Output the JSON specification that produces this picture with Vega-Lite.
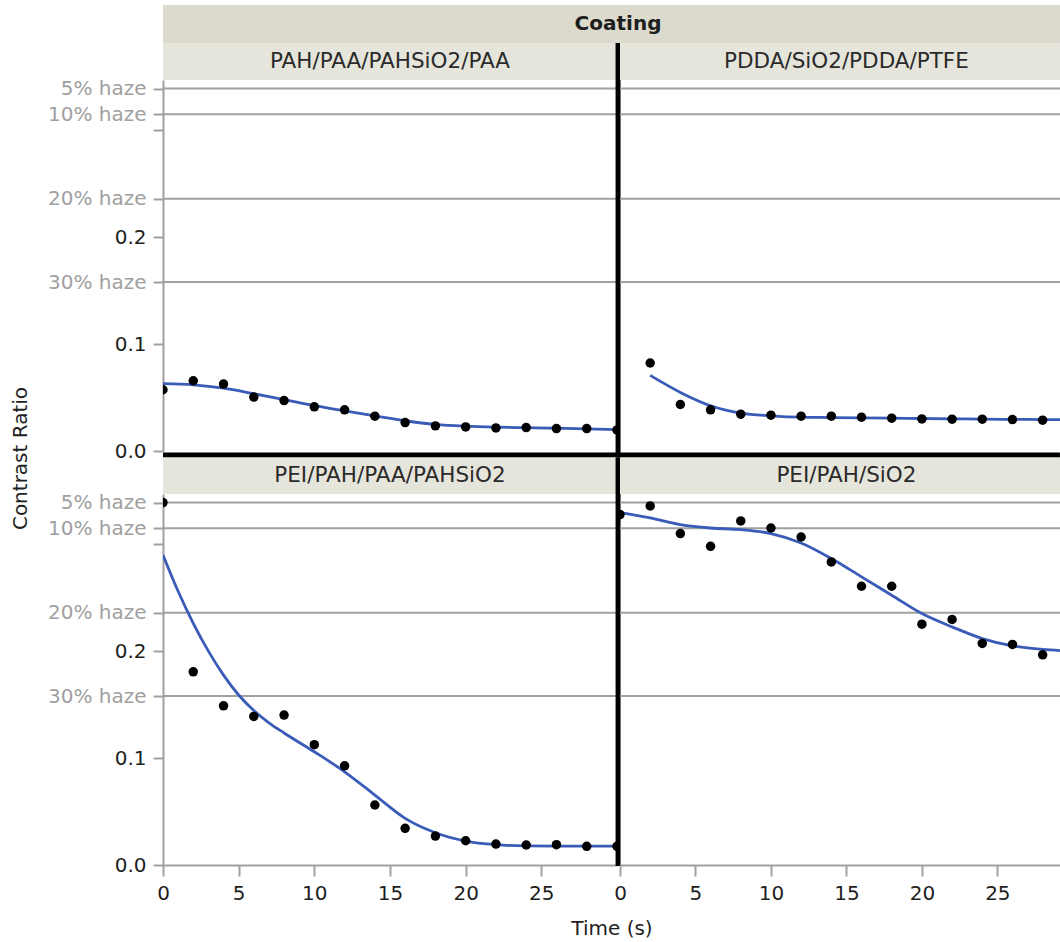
{
  "$schema": "https://vega.github.io/schema/vega-lite/v6.json",
  "usermeta": {"embedOptions": {"actions": false}},
  "padding": {"left": 10, "top": 5, "right": 0, "bottom": 0},
  "background": "white",
  "config": {
    "font": "DejaVu Sans",
    "view": {"stroke": null},
    "axis": {"labelFont": "DejaVu Sans", "labelFontSize": 20, "labelColor": "#1e1e1e", "domainColor": "#a0a0a0", "domainWidth": 2, "tickColor": "#a0a0a0", "tickWidth": 2, "tickSize": 10, "grid": false, "titleFont": "DejaVu Sans", "titleFontSize": 20, "titleFontWeight": "normal", "titleColor": "#1e1e1e"}
  },
  "datasets": {
    "pts": [
      {"Coating": "PAH/PAA/PAHSiO2/PAA", "Time": 0, "CR": 0.0573},
      {"Coating": "PAH/PAA/PAHSiO2/PAA", "Time": 2, "CR": 0.0657},
      {"Coating": "PAH/PAA/PAHSiO2/PAA", "Time": 4, "CR": 0.0626},
      {"Coating": "PAH/PAA/PAHSiO2/PAA", "Time": 6, "CR": 0.0504},
      {"Coating": "PAH/PAA/PAHSiO2/PAA", "Time": 8, "CR": 0.0472},
      {"Coating": "PAH/PAA/PAHSiO2/PAA", "Time": 10, "CR": 0.0413},
      {"Coating": "PAH/PAA/PAHSiO2/PAA", "Time": 12, "CR": 0.0385},
      {"Coating": "PAH/PAA/PAHSiO2/PAA", "Time": 14, "CR": 0.0326},
      {"Coating": "PAH/PAA/PAHSiO2/PAA", "Time": 16, "CR": 0.0266},
      {"Coating": "PAH/PAA/PAHSiO2/PAA", "Time": 18, "CR": 0.0235},
      {"Coating": "PAH/PAA/PAHSiO2/PAA", "Time": 20, "CR": 0.0225},
      {"Coating": "PAH/PAA/PAHSiO2/PAA", "Time": 22, "CR": 0.0216},
      {"Coating": "PAH/PAA/PAHSiO2/PAA", "Time": 24, "CR": 0.0219},
      {"Coating": "PAH/PAA/PAHSiO2/PAA", "Time": 26, "CR": 0.021},
      {"Coating": "PAH/PAA/PAHSiO2/PAA", "Time": 28, "CR": 0.021},
      {"Coating": "PAH/PAA/PAHSiO2/PAA", "Time": 30, "CR": 0.0197},
      {"Coating": "PDDA/SiO2/PDDA/PTFE", "Time": 2, "CR": 0.0823},
      {"Coating": "PDDA/SiO2/PDDA/PTFE", "Time": 4, "CR": 0.0435},
      {"Coating": "PDDA/SiO2/PDDA/PTFE", "Time": 6, "CR": 0.0385},
      {"Coating": "PDDA/SiO2/PDDA/PTFE", "Time": 8, "CR": 0.0344},
      {"Coating": "PDDA/SiO2/PDDA/PTFE", "Time": 10, "CR": 0.0335},
      {"Coating": "PDDA/SiO2/PDDA/PTFE", "Time": 12, "CR": 0.0326},
      {"Coating": "PDDA/SiO2/PDDA/PTFE", "Time": 14, "CR": 0.0326},
      {"Coating": "PDDA/SiO2/PDDA/PTFE", "Time": 16, "CR": 0.0316},
      {"Coating": "PDDA/SiO2/PDDA/PTFE", "Time": 18, "CR": 0.0307},
      {"Coating": "PDDA/SiO2/PDDA/PTFE", "Time": 20, "CR": 0.03},
      {"Coating": "PDDA/SiO2/PDDA/PTFE", "Time": 22, "CR": 0.0298},
      {"Coating": "PDDA/SiO2/PDDA/PTFE", "Time": 24, "CR": 0.0298},
      {"Coating": "PDDA/SiO2/PDDA/PTFE", "Time": 26, "CR": 0.0294},
      {"Coating": "PDDA/SiO2/PDDA/PTFE", "Time": 28, "CR": 0.0288},
      {"Coating": "PEI/PAH/PAA/PAHSiO2", "Time": 0, "CR": 0.339},
      {"Coating": "PEI/PAH/PAA/PAHSiO2", "Time": 2, "CR": 0.1807},
      {"Coating": "PEI/PAH/PAA/PAHSiO2", "Time": 4, "CR": 0.1489},
      {"Coating": "PEI/PAH/PAA/PAHSiO2", "Time": 6, "CR": 0.139},
      {"Coating": "PEI/PAH/PAA/PAHSiO2", "Time": 8, "CR": 0.1402},
      {"Coating": "PEI/PAH/PAA/PAHSiO2", "Time": 10, "CR": 0.1125},
      {"Coating": "PEI/PAH/PAA/PAHSiO2", "Time": 12, "CR": 0.0928},
      {"Coating": "PEI/PAH/PAA/PAHSiO2", "Time": 14, "CR": 0.0561},
      {"Coating": "PEI/PAH/PAA/PAHSiO2", "Time": 16, "CR": 0.0343},
      {"Coating": "PEI/PAH/PAA/PAHSiO2", "Time": 18, "CR": 0.0271},
      {"Coating": "PEI/PAH/PAA/PAHSiO2", "Time": 20, "CR": 0.0227},
      {"Coating": "PEI/PAH/PAA/PAHSiO2", "Time": 22, "CR": 0.0196},
      {"Coating": "PEI/PAH/PAA/PAHSiO2", "Time": 24, "CR": 0.0187},
      {"Coating": "PEI/PAH/PAA/PAHSiO2", "Time": 26, "CR": 0.019},
      {"Coating": "PEI/PAH/PAA/PAHSiO2", "Time": 28, "CR": 0.0175},
      {"Coating": "PEI/PAH/PAA/PAHSiO2", "Time": 30, "CR": 0.0175},
      {"Coating": "PEI/PAH/SiO2", "Time": 0, "CR": 0.3278},
      {"Coating": "PEI/PAH/SiO2", "Time": 2, "CR": 0.3358},
      {"Coating": "PEI/PAH/SiO2", "Time": 4, "CR": 0.31},
      {"Coating": "PEI/PAH/SiO2", "Time": 6, "CR": 0.2981},
      {"Coating": "PEI/PAH/SiO2", "Time": 8, "CR": 0.3218},
      {"Coating": "PEI/PAH/SiO2", "Time": 10, "CR": 0.3152},
      {"Coating": "PEI/PAH/SiO2", "Time": 12, "CR": 0.3068},
      {"Coating": "PEI/PAH/SiO2", "Time": 14, "CR": 0.2835},
      {"Coating": "PEI/PAH/SiO2", "Time": 16, "CR": 0.2607},
      {"Coating": "PEI/PAH/SiO2", "Time": 18, "CR": 0.2607},
      {"Coating": "PEI/PAH/SiO2", "Time": 20, "CR": 0.2252},
      {"Coating": "PEI/PAH/SiO2", "Time": 22, "CR": 0.2296},
      {"Coating": "PEI/PAH/SiO2", "Time": 24, "CR": 0.2072},
      {"Coating": "PEI/PAH/SiO2", "Time": 26, "CR": 0.2063},
      {"Coating": "PEI/PAH/SiO2", "Time": 28, "CR": 0.1966}
    ],
    "fit": [
      {"Coating": "PAH/PAA/PAHSiO2/PAA", "Time": 0, "CR": 0.063},
      {"Coating": "PAH/PAA/PAHSiO2/PAA", "Time": 2, "CR": 0.0619},
      {"Coating": "PAH/PAA/PAHSiO2/PAA", "Time": 4, "CR": 0.0588},
      {"Coating": "PAH/PAA/PAHSiO2/PAA", "Time": 6, "CR": 0.0536},
      {"Coating": "PAH/PAA/PAHSiO2/PAA", "Time": 8, "CR": 0.0481},
      {"Coating": "PAH/PAA/PAHSiO2/PAA", "Time": 10, "CR": 0.0425},
      {"Coating": "PAH/PAA/PAHSiO2/PAA", "Time": 12, "CR": 0.0376},
      {"Coating": "PAH/PAA/PAHSiO2/PAA", "Time": 14, "CR": 0.0329},
      {"Coating": "PAH/PAA/PAHSiO2/PAA", "Time": 16, "CR": 0.0283},
      {"Coating": "PAH/PAA/PAHSiO2/PAA", "Time": 18, "CR": 0.0249},
      {"Coating": "PAH/PAA/PAHSiO2/PAA", "Time": 20, "CR": 0.0232},
      {"Coating": "PAH/PAA/PAHSiO2/PAA", "Time": 22, "CR": 0.0223},
      {"Coating": "PAH/PAA/PAHSiO2/PAA", "Time": 24, "CR": 0.0218},
      {"Coating": "PAH/PAA/PAHSiO2/PAA", "Time": 26, "CR": 0.0213},
      {"Coating": "PAH/PAA/PAHSiO2/PAA", "Time": 28, "CR": 0.0207},
      {"Coating": "PAH/PAA/PAHSiO2/PAA", "Time": 30, "CR": 0.02},
      {"Coating": "PDDA/SiO2/PDDA/PTFE", "Time": 2, "CR": 0.0707},
      {"Coating": "PDDA/SiO2/PDDA/PTFE", "Time": 4, "CR": 0.0548},
      {"Coating": "PDDA/SiO2/PDDA/PTFE", "Time": 6, "CR": 0.0423},
      {"Coating": "PDDA/SiO2/PDDA/PTFE", "Time": 8, "CR": 0.0354},
      {"Coating": "PDDA/SiO2/PDDA/PTFE", "Time": 10, "CR": 0.0329},
      {"Coating": "PDDA/SiO2/PDDA/PTFE", "Time": 12, "CR": 0.0316},
      {"Coating": "PDDA/SiO2/PDDA/PTFE", "Time": 14, "CR": 0.0313},
      {"Coating": "PDDA/SiO2/PDDA/PTFE", "Time": 16, "CR": 0.031},
      {"Coating": "PDDA/SiO2/PDDA/PTFE", "Time": 18, "CR": 0.0307},
      {"Coating": "PDDA/SiO2/PDDA/PTFE", "Time": 20, "CR": 0.0304},
      {"Coating": "PDDA/SiO2/PDDA/PTFE", "Time": 22, "CR": 0.0301},
      {"Coating": "PDDA/SiO2/PDDA/PTFE", "Time": 24, "CR": 0.0298},
      {"Coating": "PDDA/SiO2/PDDA/PTFE", "Time": 26, "CR": 0.0296},
      {"Coating": "PDDA/SiO2/PDDA/PTFE", "Time": 28, "CR": 0.0294},
      {"Coating": "PDDA/SiO2/PDDA/PTFE", "Time": 30, "CR": 0.0292},
      {"Coating": "PEI/PAH/PAA/PAHSiO2", "Time": 0, "CR": 0.29},
      {"Coating": "PEI/PAH/PAA/PAHSiO2", "Time": 1, "CR": 0.256},
      {"Coating": "PEI/PAH/PAA/PAHSiO2", "Time": 2, "CR": 0.226},
      {"Coating": "PEI/PAH/PAA/PAHSiO2", "Time": 3, "CR": 0.2},
      {"Coating": "PEI/PAH/PAA/PAHSiO2", "Time": 4, "CR": 0.1776},
      {"Coating": "PEI/PAH/PAA/PAHSiO2", "Time": 5, "CR": 0.159},
      {"Coating": "PEI/PAH/PAA/PAHSiO2", "Time": 6, "CR": 0.1445},
      {"Coating": "PEI/PAH/PAA/PAHSiO2", "Time": 7, "CR": 0.133},
      {"Coating": "PEI/PAH/PAA/PAHSiO2", "Time": 8, "CR": 0.1235},
      {"Coating": "PEI/PAH/PAA/PAHSiO2", "Time": 10, "CR": 0.1059},
      {"Coating": "PEI/PAH/PAA/PAHSiO2", "Time": 12, "CR": 0.0872},
      {"Coating": "PEI/PAH/PAA/PAHSiO2", "Time": 14, "CR": 0.0654},
      {"Coating": "PEI/PAH/PAA/PAHSiO2", "Time": 16, "CR": 0.0436},
      {"Coating": "PEI/PAH/PAA/PAHSiO2", "Time": 18, "CR": 0.0302},
      {"Coating": "PEI/PAH/PAA/PAHSiO2", "Time": 20, "CR": 0.0224},
      {"Coating": "PEI/PAH/PAA/PAHSiO2", "Time": 22, "CR": 0.019},
      {"Coating": "PEI/PAH/PAA/PAHSiO2", "Time": 24, "CR": 0.0178},
      {"Coating": "PEI/PAH/PAA/PAHSiO2", "Time": 26, "CR": 0.0176},
      {"Coating": "PEI/PAH/PAA/PAHSiO2", "Time": 28, "CR": 0.0176},
      {"Coating": "PEI/PAH/PAA/PAHSiO2", "Time": 30, "CR": 0.0176},
      {"Coating": "PEI/PAH/SiO2", "Time": 0, "CR": 0.3296},
      {"Coating": "PEI/PAH/SiO2", "Time": 2, "CR": 0.3246},
      {"Coating": "PEI/PAH/SiO2", "Time": 4, "CR": 0.3184},
      {"Coating": "PEI/PAH/SiO2", "Time": 6, "CR": 0.3152},
      {"Coating": "PEI/PAH/SiO2", "Time": 8, "CR": 0.3137},
      {"Coating": "PEI/PAH/SiO2", "Time": 10, "CR": 0.31},
      {"Coating": "PEI/PAH/SiO2", "Time": 12, "CR": 0.3012},
      {"Coating": "PEI/PAH/SiO2", "Time": 14, "CR": 0.2866},
      {"Coating": "PEI/PAH/SiO2", "Time": 16, "CR": 0.2695},
      {"Coating": "PEI/PAH/SiO2", "Time": 18, "CR": 0.2523},
      {"Coating": "PEI/PAH/SiO2", "Time": 20, "CR": 0.2352},
      {"Coating": "PEI/PAH/SiO2", "Time": 22, "CR": 0.2227},
      {"Coating": "PEI/PAH/SiO2", "Time": 24, "CR": 0.2118},
      {"Coating": "PEI/PAH/SiO2", "Time": 26, "CR": 0.205},
      {"Coating": "PEI/PAH/SiO2", "Time": 28, "CR": 0.2016},
      {"Coating": "PEI/PAH/SiO2", "Time": 30, "CR": 0.2}
    ],
    "haze": [
      {"Haze": "5% haze", "CR": 0.339},
      {"Haze": "10% haze", "CR": 0.315},
      {"Haze": "20% haze", "CR": 0.236},
      {"Haze": "30% haze", "CR": 0.158}
    ],
    "one": [{"k": 1}]
  },
  "bounds": "flush",
  "columns": 2,
  "spacing": {"row": 43, "column": 3},
  "concat": [
    {
      "width": 454, "height": 371,
      "layer": [
        {"data": {"name": "one"}, "mark": {"type": "rect", "color": "#dcdacd", "clip": false},
         "encoding": {"x": {"datum": 0, "type": "quantitative", "scale": {"domain": [0, 30], "nice": false, "zero": false}, "axis": null}, "x2": {"datum": 59.27}, "y": {"datum": 0.3816, "type": "quantitative", "scale": {"domain": [0, 0.347], "nice": false, "zero": false}}, "y2": {"datum": 0.4171}}},
        {"data": {"name": "one"}, "mark": {"type": "rect", "color": "#e6e5dc", "clip": false},
         "encoding": {"x": {"datum": 0, "type": "quantitative", "axis": null}, "x2": {"datum": 30}, "y": {"datum": 0.347, "type": "quantitative"}, "y2": {"datum": 0.3816}}},
        {"data": {"name": "haze"}, "mark": {"type": "rule", "color": "#a0a0a0", "strokeWidth": 2},
         "encoding": {"y": {"field": "CR", "type": "quantitative"}}},
        {"data": {"name": "fit"}, "transform": [{"filter": "datum.Coating == 'PAH/PAA/PAHSiO2/PAA'"}],
         "mark": {"type": "line", "color": "#3a5cb8", "strokeWidth": 2.8, "interpolate": "monotone", "clip": true},
         "encoding": {"x": {"field": "Time", "type": "quantitative", "axis": null}, "y": {"field": "CR", "type": "quantitative"}}},
        {"data": {"name": "pts"}, "transform": [{"filter": "datum.Coating == 'PAH/PAA/PAHSiO2/PAA'"}],
         "mark": {"type": "point", "filled": true, "color": "black", "opacity": 1, "size": 90, "clip": true},
         "encoding": {"x": {"field": "Time", "type": "quantitative", "axis": null},
           "y": {"field": "CR", "type": "quantitative",
             "axis": {"values": [0, 0.1, 0.158, 0.2, 0.236, 0.3, 0.315, 0.339], "labelOverlap": false, "labelPadding": 7,
               "labelExpr": "datum.value == 0.339 ? '5% haze' : datum.value == 0.315 ? '10% haze' : datum.value == 0.236 ? '20% haze' : datum.value == 0.158 ? '30% haze' : datum.value == 0.3 ? '' : format(datum.value, '.1f')",
               "labelColor": {"condition": {"test": "datum.value == 0 || datum.value == 0.1 || datum.value == 0.2", "value": "#1e1e1e"}, "value": "#a0a0a0"},
               "title": "Contrast Ratio", "titleX": -143, "titleY": 378, "titleAngle": -90, "titleAlign": "center", "titleBaseline": "middle"}}}},
        {"data": {"name": "one"}, "mark": {"type": "rule", "color": "black", "strokeWidth": 5, "clip": false},
         "encoding": {"x": {"datum": 0, "type": "quantitative", "axis": null}, "x2": {"datum": 59.27}, "y": {"datum": -0.0037, "type": "quantitative"}}},
        {"data": {"name": "one"}, "mark": {"type": "rule", "color": "black", "strokeWidth": 5, "clip": false},
         "encoding": {"x": {"datum": 30.07, "type": "quantitative", "axis": null}, "y": {"datum": -0.006, "type": "quantitative"}, "y2": {"datum": 0.3816}}},
        {"data": {"name": "one"}, "mark": {"type": "text", "text": "PAH/PAA/PAHSiO2/PAA", "fontSize": 21.5, "color": "#2a2a2a", "baseline": "middle", "align": "center", "clip": false},
         "encoding": {"x": {"datum": 15, "type": "quantitative", "axis": null}, "y": {"datum": 0.3643, "type": "quantitative"}}},
        {"data": {"name": "one"}, "mark": {"type": "text", "text": "Coating", "fontSize": 20, "fontWeight": "bold", "color": "#1e1e1e", "baseline": "middle", "align": "center", "clip": false},
         "encoding": {"x": {"datum": 30.07, "type": "quantitative", "axis": null}, "y": {"datum": 0.3993, "type": "quantitative"}}}
      ]
    },
    {
      "width": 440, "height": 371,
      "layer": [
        {"data": {"name": "one"}, "mark": {"type": "rect", "color": "#e6e5dc", "clip": false},
         "encoding": {"x": {"datum": 0, "type": "quantitative", "scale": {"domain": [0, 29.15], "nice": false, "zero": false}, "axis": null}, "x2": {"datum": 29.15}, "y": {"datum": 0.347, "type": "quantitative", "scale": {"domain": [0, 0.347], "nice": false, "zero": false}, "axis": null}, "y2": {"datum": 0.3816}}},
        {"data": {"name": "haze"}, "mark": {"type": "rule", "color": "#a0a0a0", "strokeWidth": 2},
         "encoding": {"y": {"field": "CR", "type": "quantitative", "axis": null}}},
        {"data": {"name": "fit"}, "transform": [{"filter": "datum.Coating == 'PDDA/SiO2/PDDA/PTFE'"}],
         "mark": {"type": "line", "color": "#3a5cb8", "strokeWidth": 2.8, "interpolate": "monotone", "clip": true},
         "encoding": {"x": {"field": "Time", "type": "quantitative", "axis": null}, "y": {"field": "CR", "type": "quantitative", "axis": null}}},
        {"data": {"name": "pts"}, "transform": [{"filter": "datum.Coating == 'PDDA/SiO2/PDDA/PTFE'"}],
         "mark": {"type": "point", "filled": true, "color": "black", "opacity": 1, "size": 90, "clip": true},
         "encoding": {"x": {"field": "Time", "type": "quantitative", "axis": null}, "y": {"field": "CR", "type": "quantitative", "axis": null}}},
        {"data": {"name": "one"}, "mark": {"type": "text", "text": "PDDA/SiO2/PDDA/PTFE", "fontSize": 21.5, "color": "#2a2a2a", "baseline": "middle", "align": "center", "clip": false},
         "encoding": {"x": {"datum": 15, "type": "quantitative", "axis": null}, "y": {"datum": 0.3643, "type": "quantitative", "axis": null}}}
      ]
    },
    {
      "width": 454, "height": 371,
      "layer": [
        {"data": {"name": "one"}, "mark": {"type": "rect", "color": "#e6e5dc", "clip": false},
         "encoding": {"x": {"datum": 0, "type": "quantitative", "scale": {"domain": [0, 30], "nice": false, "zero": false}}, "x2": {"datum": 30}, "y": {"datum": 0.347, "type": "quantitative", "scale": {"domain": [0, 0.347], "nice": false, "zero": false}}, "y2": {"datum": 0.3811}}},
        {"data": {"name": "haze"}, "mark": {"type": "rule", "color": "#a0a0a0", "strokeWidth": 2},
         "encoding": {"y": {"field": "CR", "type": "quantitative"}}},
        {"data": {"name": "fit"}, "transform": [{"filter": "datum.Coating == 'PEI/PAH/PAA/PAHSiO2'"}],
         "mark": {"type": "line", "color": "#3a5cb8", "strokeWidth": 2.8, "interpolate": "monotone", "clip": true},
         "encoding": {"x": {"field": "Time", "type": "quantitative"}, "y": {"field": "CR", "type": "quantitative"}}},
        {"data": {"name": "pts"}, "transform": [{"filter": "datum.Coating == 'PEI/PAH/PAA/PAHSiO2'"}],
         "mark": {"type": "point", "filled": true, "color": "black", "opacity": 1, "size": 90, "clip": true},
         "encoding": {
           "x": {"field": "Time", "type": "quantitative",
             "axis": {"values": [0, 5, 10, 15, 20, 25], "format": "d", "labelFlush": false, "labelPadding": 7, "tickSize": 11,
               "title": "Time (s)", "titleX": 448.5, "titleY": 63, "titleAlign": "center", "titleBaseline": "middle"}},
           "y": {"field": "CR", "type": "quantitative",
             "axis": {"values": [0, 0.1, 0.158, 0.2, 0.236, 0.3, 0.315, 0.339], "labelOverlap": false, "labelPadding": 7,
               "labelExpr": "datum.value == 0.339 ? '5% haze' : datum.value == 0.315 ? '10% haze' : datum.value == 0.236 ? '20% haze' : datum.value == 0.158 ? '30% haze' : datum.value == 0.3 ? '' : format(datum.value, '.1f')",
               "labelColor": {"condition": {"test": "datum.value == 0 || datum.value == 0.1 || datum.value == 0.2", "value": "#1e1e1e"}, "value": "#a0a0a0"},
               "title": null}}}},
        {"data": {"name": "one"}, "mark": {"type": "rule", "color": "black", "strokeWidth": 5, "clip": false},
         "encoding": {"x": {"datum": 30.07, "type": "quantitative"}, "y": {"datum": -0.001, "type": "quantitative"}, "y2": {"datum": 0.3811}}},
        {"data": {"name": "one"}, "mark": {"type": "text", "text": "PEI/PAH/PAA/PAHSiO2", "fontSize": 21.5, "color": "#2a2a2a", "baseline": "middle", "align": "center", "clip": false},
         "encoding": {"x": {"datum": 15, "type": "quantitative"}, "y": {"datum": 0.364, "type": "quantitative"}}}
      ]
    },
    {
      "width": 440, "height": 371,
      "layer": [
        {"data": {"name": "one"}, "mark": {"type": "rect", "color": "#e6e5dc", "clip": false},
         "encoding": {"x": {"datum": 0, "type": "quantitative", "scale": {"domain": [0, 29.15], "nice": false, "zero": false}}, "x2": {"datum": 29.15}, "y": {"datum": 0.347, "type": "quantitative", "scale": {"domain": [0, 0.347], "nice": false, "zero": false}, "axis": null}, "y2": {"datum": 0.3811}}},
        {"data": {"name": "haze"}, "mark": {"type": "rule", "color": "#a0a0a0", "strokeWidth": 2},
         "encoding": {"y": {"field": "CR", "type": "quantitative", "axis": null}}},
        {"data": {"name": "fit"}, "transform": [{"filter": "datum.Coating == 'PEI/PAH/SiO2'"}],
         "mark": {"type": "line", "color": "#3a5cb8", "strokeWidth": 2.8, "interpolate": "monotone", "clip": true},
         "encoding": {"x": {"field": "Time", "type": "quantitative"}, "y": {"field": "CR", "type": "quantitative", "axis": null}}},
        {"data": {"name": "pts"}, "transform": [{"filter": "datum.Coating == 'PEI/PAH/SiO2'"}],
         "mark": {"type": "point", "filled": true, "color": "black", "opacity": 1, "size": 90, "clip": true},
         "encoding": {
           "x": {"field": "Time", "type": "quantitative",
             "axis": {"values": [0, 5, 10, 15, 20, 25], "format": "d", "labelFlush": false, "labelPadding": 7, "tickSize": 11, "title": null}},
           "y": {"field": "CR", "type": "quantitative", "axis": null}}},
        {"data": {"name": "one"}, "mark": {"type": "text", "text": "PEI/PAH/SiO2", "fontSize": 21.5, "color": "#2a2a2a", "baseline": "middle", "align": "center", "clip": false},
         "encoding": {"x": {"datum": 15, "type": "quantitative"}, "y": {"datum": 0.364, "type": "quantitative", "axis": null}}}
      ]
    }
  ]
}
